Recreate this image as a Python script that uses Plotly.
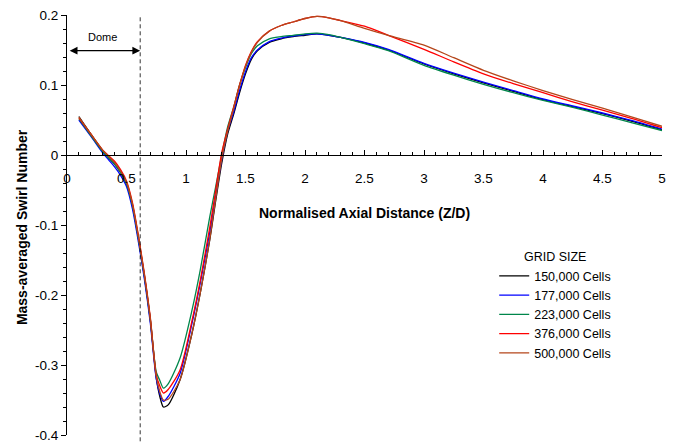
import plotly.graph_objects as go

x_pts = [0.1, 0.2, 0.3, 0.35, 0.4, 0.45, 0.5, 0.55, 0.6, 0.65, 0.7, 0.75, 0.78, 0.81, 0.85, 0.95,
         1.05, 1.12, 1.2, 1.25, 1.3, 1.35, 1.4, 1.45, 1.5, 1.55, 1.6, 1.7, 1.8,
         1.9, 2.0, 2.1, 2.2, 2.3, 2.5, 2.7, 3.0, 3.25, 3.5, 3.75, 4.0, 4.25, 4.5, 4.75, 5.0]

s150 = [0.055, 0.030, 0.006, -0.004, -0.013, -0.025, -0.041, -0.072, -0.119, -0.173, -0.236, -0.318, -0.345,
        -0.360, -0.357, -0.321, -0.255, -0.197, -0.121, -0.065, -0.012, 0.030, 0.058, 0.089,
        0.116, 0.137, 0.149, 0.161, 0.166, 0.169, 0.171, 0.173, 0.171, 0.168,
        0.160, 0.150, 0.130, 0.116, 0.103, 0.091, 0.079, 0.069, 0.059, 0.048, 0.036]
s177 = [0.050, 0.027, 0.003, -0.007, -0.017, -0.029, -0.045, -0.077, -0.124, -0.177, -0.240, -0.320, -0.341,
        -0.352, -0.345, -0.312, -0.241, -0.183, -0.110, -0.058, -0.007, 0.034, 0.061, 0.092,
        0.119, 0.139, 0.150, 0.162, 0.167, 0.170, 0.172, 0.173, 0.171, 0.168,
        0.161, 0.151, 0.131, 0.117, 0.104, 0.092, 0.080, 0.070, 0.060, 0.049, 0.037]
s223 = [0.052, 0.028, 0.005, -0.004, -0.013, -0.025, -0.041, -0.072, -0.119, -0.172, -0.234, -0.310, -0.322,
        -0.333, -0.327, -0.290, -0.222, -0.164, -0.088, -0.045, 0.000, 0.040, 0.068, 0.100,
        0.125, 0.145, 0.156, 0.166, 0.169, 0.171, 0.173, 0.174, 0.172, 0.168,
        0.159, 0.149, 0.128, 0.114, 0.101, 0.089, 0.078, 0.068, 0.057, 0.046, 0.035]
s376 = [0.053, 0.030, 0.007, -0.001, -0.009, -0.021, -0.037, -0.068, -0.115, -0.169, -0.232, -0.314, -0.330,
        -0.340, -0.335, -0.307, -0.237, -0.179, -0.103, -0.050, 0.003, 0.037, 0.068, 0.100,
        0.128, 0.148, 0.162, 0.177, 0.185, 0.190, 0.195, 0.198, 0.196, 0.192,
        0.184, 0.171, 0.151, 0.133, 0.116, 0.102, 0.089, 0.076, 0.064, 0.052, 0.039]
s500 = [0.054, 0.030, 0.007, -0.002, -0.011, -0.023, -0.039, -0.070, -0.117, -0.171, -0.234, -0.316, -0.338,
        -0.350, -0.349, -0.321, -0.255, -0.197, -0.120, -0.062, -0.006, 0.034, 0.066, 0.099,
        0.127, 0.147, 0.161, 0.177, 0.185, 0.190, 0.195, 0.198, 0.196, 0.192,
        0.181, 0.171, 0.157, 0.139, 0.121, 0.106, 0.092, 0.079, 0.067, 0.054, 0.041]

series_names = ["150,000 Cells", "177,000 Cells", "223,000 Cells", "376,000 Cells", "500,000 Cells"]
series_vals = [s150, s177, s223, s376, s500]
series_colors = ["#000000", "#0000FF", "#00864B", "#FF0000", "#B5461B"]

y_tick_vals = [-0.4, -0.3, -0.2, -0.1, 0, 0.1, 0.2]
y_tick_text = ["-0.4", "-0.3", "-0.2", "-0.1", "0", "0.1", "0.2"]
x_tick_vals = [0, 0.5, 1, 1.5, 2, 2.5, 3, 3.5, 4, 4.5, 5]
x_tick_text = ["0", "0.5", "1", "1.5", "2", "2.5", "3", "3.5", "4", "4.5", "5"]

dome_x = 0.615

FONT = "Liberation Sans, Arial, sans-serif"

fig = go.Figure()
for name, vals, col in zip(series_names, series_vals, series_colors):
    fig.add_trace(go.Scatter(x=x_pts, y=vals, mode="lines", name=name,
                             line=dict(color=col, width=1.3, shape="spline", smoothing=0.7)))

# page body has an 8px margin, so the figure is sized 8px smaller on each leading side
fig.update_layout(
    width=673, height=440,
    margin=dict(l=59, r=19, t=7, b=13, autoexpand=False),
    paper_bgcolor="white", plot_bgcolor="white",
    font=dict(family=FONT, color="black", size=13),
    showlegend=True,
    legend=dict(x=0.718, y=0.4525, xanchor="left", yanchor="top",
                bgcolor="rgba(0,0,0,0)", font=dict(size=12.5, family=FONT),
                title=dict(text="GRID SIZE", side="top center", font=dict(size=12.5, family=FONT)),
                tracegroupgap=0, itemwidth=30),
    xaxis=dict(range=[0, 5], anchor="free", position=2/3, automargin=False,
               showline=True, linecolor="black", linewidth=1,
               tickvals=x_tick_vals, ticktext=x_tick_text,
               ticks="inside", ticklen=5, tickcolor="black",
               minor=dict(dtick=0.1, ticks="inside", ticklen=3, tickcolor="black"),
               showgrid=False, zeroline=False, ticklabelstandoff=11,
               tickfont=dict(size=13.5, family=FONT)),
    yaxis=dict(range=[-0.4, 0.2], automargin=False, showline=True, linecolor="black", linewidth=1,
               tickvals=y_tick_vals, ticktext=y_tick_text,
               ticks="outside", ticklen=5, tickcolor="black",
               minor=dict(tickmode="linear", tick0=0, dtick=0.02, ticks="outside", ticklen=3, tickcolor="black"),
               showgrid=False, zeroline=False, ticklabeloverflow="allow",
               tickfont=dict(size=13.5, family=FONT)),
)

fig.add_shape(type="line", xref="x", yref="paper", x0=dome_x, x1=dome_x, y0=-0.015, y1=0.995,
              line=dict(color="black", width=0.8, dash="4px,3px"))

fig.add_annotation(x=dome_x, y=0.149, ax=0.01, ay=0.149, xref="x", yref="y", axref="x", ayref="y",
                   text="", showarrow=True, arrowhead=2, startarrowhead=2, arrowside="end+start",
                   arrowsize=1.3, startarrowsize=1.3, arrowwidth=1.2, arrowcolor="black")
fig.add_annotation(x=0.3, y=0.169, xref="x", yref="y", text="Dome", showarrow=False,
                   font=dict(size=11, family=FONT))

fig.add_annotation(x=0.5008, y=0.5286, xref="paper", yref="paper", xanchor="center", yanchor="middle",
                   text="<b>Normalised Axial Distance (Z/D)</b>",
                   showarrow=False, font=dict(size=14, family=FONT))
fig.add_annotation(x=-0.0756, y=0.495, xref="paper", yref="paper", xanchor="center", yanchor="middle",
                   textangle=-90, text="<b>Mass-averaged Swirl Number</b>",
                   showarrow=False, font=dict(size=14, family=FONT))

fig.write_html("out.html")
